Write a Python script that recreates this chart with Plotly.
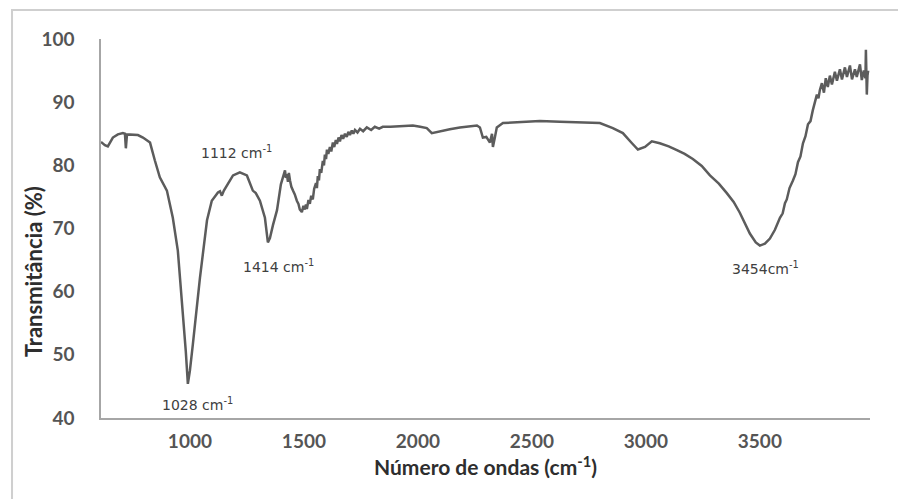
import plotly.graph_objects as go

# Wavenumber (x) and transmittance (%)
wavenumber = [
    610, 627, 640, 662, 684, 706, 715, 719, 724, 750, 772, 794, 825, 846, 868, 899,
    925, 947, 969, 982, 991, 1000, 1013, 1044, 1075, 1096, 1123, 1132, 1140, 1149,
    1162, 1189, 1219, 1250, 1276, 1289, 1307, 1329, 1342, 1351, 1364, 1382, 1399,
    1417, 1421, 1425, 1430, 1434, 1439, 1445, 1452, 1460, 1469, 1476, 1482, 1491,
    1498, 1504, 1509, 1513, 1520, 1526, 1532, 1539, 1545, 1553, 1557, 1561, 1566,
    1570, 1576, 1583, 1588, 1592, 1597, 1601, 1607, 1614, 1620, 1627, 1633, 1640,
    1645, 1652, 1658, 1665, 1672, 1680, 1688, 1695, 1702, 1710, 1717, 1724, 1735,
    1746, 1760, 1776, 1795, 1811, 1830, 1846, 1880, 1921, 1950, 1978, 2010, 2039,
    2061, 2096, 2140, 2184, 2230, 2259, 2272, 2285, 2300, 2307, 2316, 2325, 2329,
    2338, 2346, 2373, 2447, 2535, 2623, 2711, 2798, 2855, 2899, 2939, 2965, 2996,
    3026, 3061, 3100, 3136, 3170, 3206, 3245, 3281, 3320, 3355, 3385, 3412, 3435,
    3456, 3482, 3500, 3522, 3544, 3566, 3588, 3600, 3610, 3618, 3630, 3645, 3656,
    3667, 3678, 3689, 3700, 3711, 3722, 3732, 3741, 3750, 3757, 3763, 3772, 3781,
    3789, 3798, 3807, 3816, 3829, 3838, 3851, 3860, 3873, 3882, 3895, 3904, 3917,
    3925, 3939, 3947, 3956, 3963, 3965, 3967, 3969, 3972, 3975,
]
transmittance = [
    83.7, 83.2, 83.0, 84.4, 84.9, 85.1, 85.0, 82.7, 84.9, 84.9, 84.8, 84.4, 83.6, 80.8, 78.1, 76.0,
    71.7, 66.5, 57.0, 50.5, 45.4, 47.5, 51.7, 62.2, 71.3, 74.4, 75.7, 75.9, 75.2, 76.0,
    76.8, 78.4, 78.9, 78.4, 76.0, 75.6, 74.4, 71.7, 67.8, 68.5, 70.5, 72.9, 77.0,
    79.2, 78.0, 78.6, 77.4, 78.8, 77.6, 76.6, 76.0, 75.4, 74.4, 73.9, 73.0, 72.6,
    73.6, 73.0, 73.8, 73.1, 74.5, 73.9, 75.2, 74.6, 76.3, 77.2, 76.4, 78.3, 77.6,
    79.4, 78.8, 80.7, 80.0, 81.7, 81.0, 82.5, 81.8, 82.9, 82.2, 83.6, 82.9, 84.0,
    83.4, 84.4, 83.8, 84.8, 84.2, 85.0, 84.5, 85.3, 84.8, 85.5, 85.0, 85.6, 85.2,
    85.8, 85.4, 86.0, 85.6, 86.1, 85.8, 86.1, 86.1, 86.2, 86.2, 86.3, 86.1, 85.9,
    85.1, 85.4, 85.7, 86.0, 86.2, 86.3, 86.0, 84.4, 84.5, 84.0, 83.6, 85.0, 82.9,
    84.5, 86.0, 86.7, 86.8, 87.0, 86.9, 86.8, 86.7, 85.9, 85.1, 83.5, 82.5, 82.9,
    83.8, 83.5, 83.0, 82.4, 81.8, 81.0, 79.9, 78.4, 77.1, 75.6, 74.2, 72.5, 70.9,
    69.2, 67.8, 67.3, 67.6, 68.4, 69.8, 71.7, 72.4, 74.0, 74.6, 76.4, 77.6, 78.6,
    80.5, 81.4, 83.5, 84.6, 86.5, 87.0, 88.7, 89.9, 91.2, 90.6, 91.9, 93.0, 91.5,
    93.8, 92.4, 94.2, 92.8, 94.8, 93.4, 95.2, 93.6, 95.5, 94.0, 95.8, 93.6, 95.2,
    94.0, 96.0, 93.5, 95.0, 93.8, 98.3, 94.5, 91.2, 94.2, 95.0,
]

peak_labels = ["1112 cm<sup>-1</sup>", "1414 cm<sup>-1</sup>", "1028 cm<sup>-1</sup>", "3454cm<sup>-1</sup>"]
peak_label_x = [1206, 1390, 1035, 3526]
peak_label_y = [82.1, 64.1, 42.2, 63.8]

x_ticks = [1000, 1500, 2000, 2500, 3000, 3500]
y_ticks = [40, 50, 60, 70, 80, 90, 100]

fig = go.Figure()
fig.add_trace(go.Scatter(
    x=wavenumber, y=transmittance, mode="lines",
    line=dict(color="#5c5c5c", width=2.5), showlegend=False, hoverinfo="skip",
))

for t, ax, ay in zip(peak_labels, peak_label_x, peak_label_y):
    fig.add_annotation(x=ax, y=ay, text=t, showarrow=False,
                       font=dict(family="DejaVu Sans", size=14, color="#404040"))

# Y-axis title placed as in the reference (lower than the plot centre)
fig.add_annotation(xref="paper", yref="paper", x=-0.0884, y=0.385,
                   xanchor="center", yanchor="middle",
                   text="Transmitância (%)", textangle=-90, showarrow=False,
                   font=dict(family="Lato", size=22, color="#2e2e2e", weight="bold"))

fig.add_shape(type="rect", xref="paper", yref="paper",
              x0=-0.1157, x1=1.05, y0=-0.235, y1=1.0765,
              line=dict(color="#cfcfcf", width=2))

fig.update_layout(
    width=898, height=499,
    margin=dict(l=101, r=28, t=39, b=81),
    paper_bgcolor="white", plot_bgcolor="white",
    font=dict(family="Lato", color="#595959"),
    xaxis=dict(
        range=[610, 3983], tickvals=x_ticks, showgrid=False, zeroline=False,
        showline=True, linecolor="#a6a6a6", linewidth=1.5, ticks="",
        tickfont=dict(family="Lato", size=19, color="#555555", weight="bold"),
        ticklabelstandoff=5,
        title=dict(text="Número de ondas (cm<sup>-1</sup>)",
                   font=dict(family="Lato", size=21, color="#2e2e2e", weight="bold"),
                   standoff=3),
    ),
    yaxis=dict(
        range=[40, 100], tickvals=y_ticks, showgrid=False, zeroline=False,
        showline=True, linecolor="#a6a6a6", linewidth=1.5, ticks="",
        tickfont=dict(family="Lato", size=19, color="#555555", weight="bold"),
        ticklabelstandoff=21,
    ),
)

fig.write_html("out.html")
